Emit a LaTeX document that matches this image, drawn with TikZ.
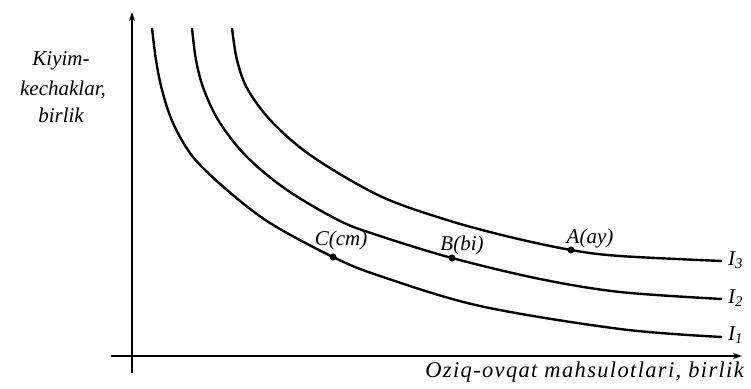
\documentclass[tikz,border=0pt]{standalone}
\usepackage{fontspec}
\setmainfont{Liberation Serif}
\usetikzlibrary{arrows.meta}
\begin{document}
\begin{tikzpicture}[x=1pt,y=-1pt,
  axis/.style={line width=2pt,-{Stealth[length=9pt,width=6pt]}},
  curve/.style={line width=2.4pt},
  pt/.style={circle,fill=black,inner sep=0pt,minimum size=7pt},
  lbl/.style={font=\fontsize{21}{24}\selectfont\itshape,inner sep=0pt,anchor=base},
  ilbl/.style={font=\fontsize{21}{24}\selectfont\itshape,inner sep=0pt,anchor=base west}]
\useasboundingbox (0,0) rectangle (751,388);
\coordinate (yb) at (132,373);
\coordinate (yt) at (132,12);
\coordinate (xl) at (111,356);
\coordinate (xr) at (742,356);
\draw[axis] (yb) -- (yt);
\draw[axis] (xl) -- (xr);
% curves
\draw[curve] plot[smooth,tension=0.55] coordinates {(152,28) (156,60) (162,90) (173,123) (193,157) (227,190) (270,223) (333,257) (380,276) (480,306) (620,329) (722,337)};
\draw[curve] plot[smooth,tension=0.55] coordinates {(192,28) (196,60) (204,90) (220,123) (247,157) (287,190) (340,221) (380,236) (452,258) (540,279) (620,292) (722,299)};
\draw[curve] plot[smooth,tension=0.55] coordinates {(232,28) (237,60) (248,90) (273,123) (313,157) (380,196) (447,220) (510,237) (571,250) (620,256) (722,261)};
% points
\node[pt] (C) at (333,257) {};
\node[pt] (B) at (452,258) {};
\node[pt] (A) at (571,250) {};
\node[lbl] (Cl) at (341,245) {C(cm)};
\node[lbl] (Bl) at (462,250) {B(bi)};
\node[lbl] (Al) at (590,243) {A(ay)};
\node[ilbl] (I3) at (728,265) {I\textsubscript{3}};
\node[ilbl] (I2) at (728,303) {I\textsubscript{2}};
\node[ilbl] (I1) at (728,340) {I\textsubscript{1}};
\node[lbl] (y1) at (61,65) {Kiyim-};
\node[lbl] (y2) at (63,95) {kechaklar,};
\node[lbl] (y3) at (61,122) {birlik};
\node[lbl,anchor=base east,font=\fontsize{22.5}{26}\selectfont\itshape\addfontfeature{LetterSpace=6}] (xlab) at (744,377) {Oziq-ovqat mahsulotlari, birlik};
\end{tikzpicture}
\end{document}
